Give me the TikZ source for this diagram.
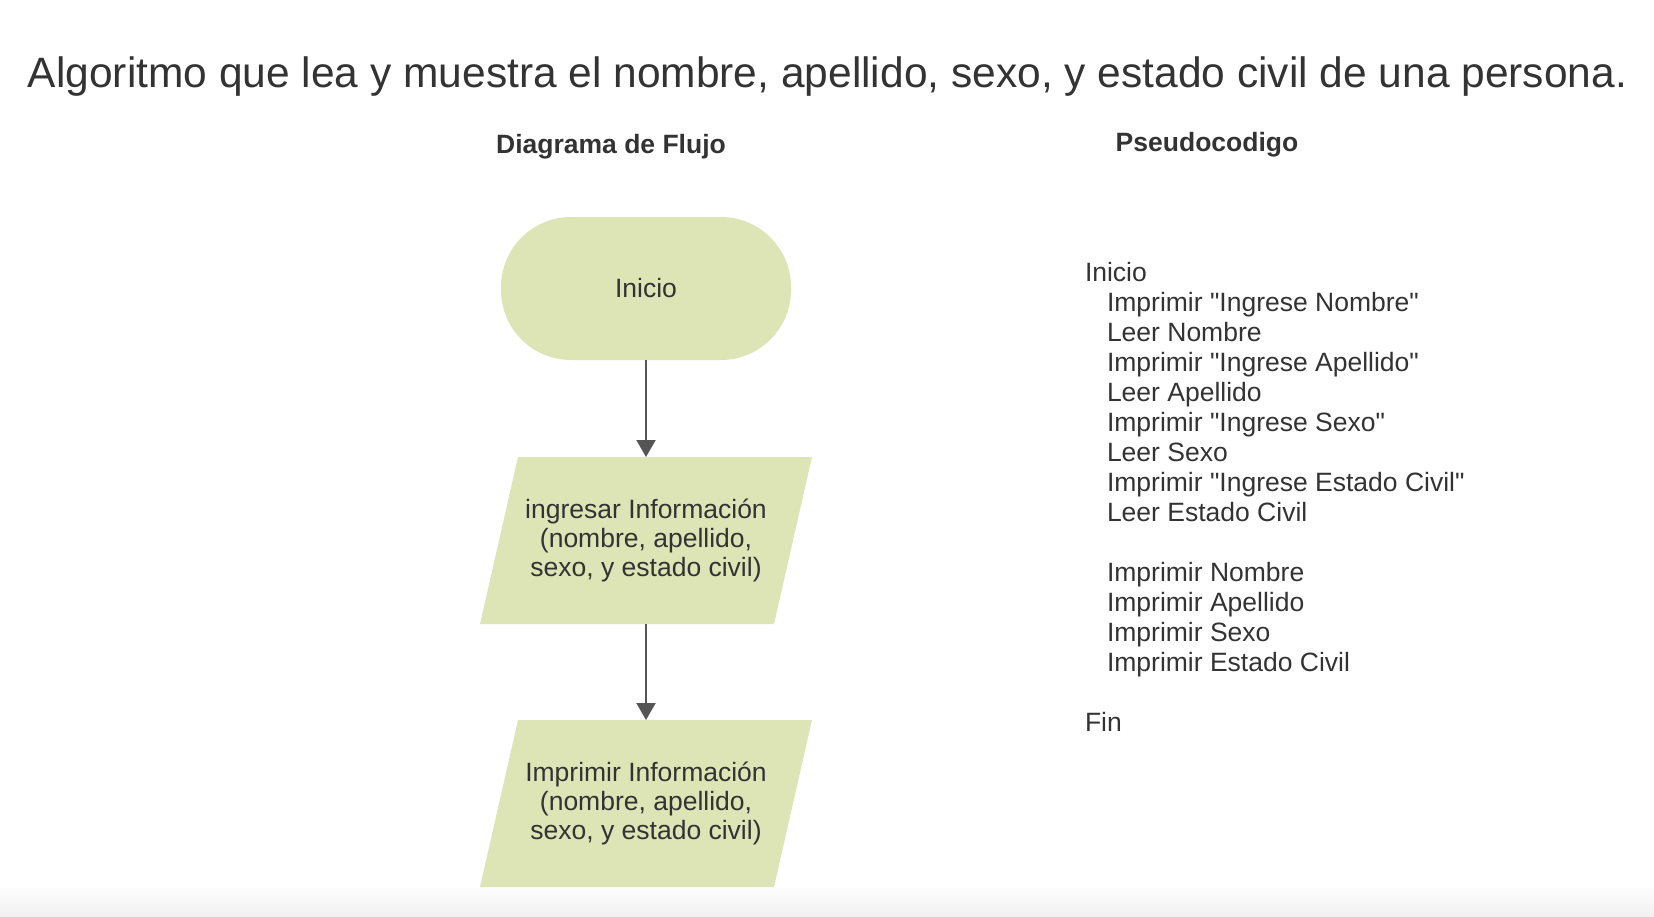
\documentclass[tikz,border=0pt]{standalone}
\usepackage{fontspec}
\setmainfont{Liberation Sans}[Ligatures=TeXOff]
\usetikzlibrary{arrows.meta}
\definecolor{shapefill}{HTML}{DDE4B6}
\definecolor{txt}{HTML}{333333}
\definecolor{arrowcol}{HTML}{555555}
\tikzset{
  every node/.style={text=txt, inner sep=0pt, outer sep=0pt},
  titletxt/.style={font=\fontsize{42.5}{50}\selectfont, anchor=base},
  headtxt/.style={font=\bfseries\fontsize{26.5}{30}\selectfont, anchor=base},
  codetxt/.style={font=\fontsize{26.5}{30}\selectfont, anchor=base west},
  termbox/.style={fill=shapefill, rounded corners=70pt, minimum width=290pt, minimum height=143pt,
    font=\fontsize{26.5}{30}\selectfont},
  iobox/.style={minimum width=332pt, minimum height=167pt, align=center,
    font=\fontsize{26.5}{29}\selectfont,
    path picture={\fill[shapefill] (path picture bounding box.south west)
      -- ([xshift=-38pt]path picture bounding box.south east)
      -- (path picture bounding box.north east)
      -- ([xshift=38pt]path picture bounding box.north west) -- cycle;}},
  flowarrow/.style={draw=arrowcol, line width=2pt, -{Triangle[length=17pt,width=19pt]}}
}
\begin{document}
\begin{tikzpicture}[x=1pt,y=-1pt]
\useasboundingbox (0,0) rectangle (1654,916);
\shade[top color=white, bottom color=black!6] (0,886) rectangle (1654,916);

\node[titletxt] (title) at (827.5,87.5) {Algoritmo que lea y muestra el nombre, apellido, sexo, y estado civil de una persona.};
\node[headtxt] (hflow) at (611,153) {Diagrama de Flujo};
\node[headtxt] (hcode) at (1207,151) {Pseudocodigo};

\node[termbox] (start) at (646,288.5) {Inicio};
\node[iobox] (in) at (646,540.5) {ingresar Información\\(nombre, apellido,\\sexo, y estado civil)};
\node[iobox] (out) at (646,803.5) {Imprimir Información\\(nombre, apellido,\\sexo, y estado civil)};

\draw[flowarrow] (start.south) -- (in.north);
\draw[flowarrow] (in.south) -- (out.north);

\node[codetxt] (c0) at (1085,281.7) {Inicio};
\node[codetxt] (c1) at (1107,311.7) {Imprimir "Ingrese Nombre"};
\node[codetxt] (c2) at (1107,341.7) {Leer Nombre};
\node[codetxt] (c3) at (1107,371.7) {Imprimir "Ingrese Apellido"};
\node[codetxt] (c4) at (1107,401.7) {Leer Apellido};
\node[codetxt] (c5) at (1107,431.7) {Imprimir "Ingrese Sexo"};
\node[codetxt] (c6) at (1107,461.7) {Leer Sexo};
\node[codetxt] (c7) at (1107,491.7) {Imprimir "Ingrese Estado Civil"};
\node[codetxt] (c8) at (1107,521.7) {Leer Estado Civil};
\node[codetxt] (c9) at (1107,581.7) {Imprimir Nombre};
\node[codetxt] (c10) at (1107,611.7) {Imprimir Apellido};
\node[codetxt] (c11) at (1107,641.7) {Imprimir Sexo};
\node[codetxt] (c12) at (1107,671.7) {Imprimir Estado Civil};
\node[codetxt] (c13) at (1085,731.7) {Fin};
\end{tikzpicture}
\end{document}
